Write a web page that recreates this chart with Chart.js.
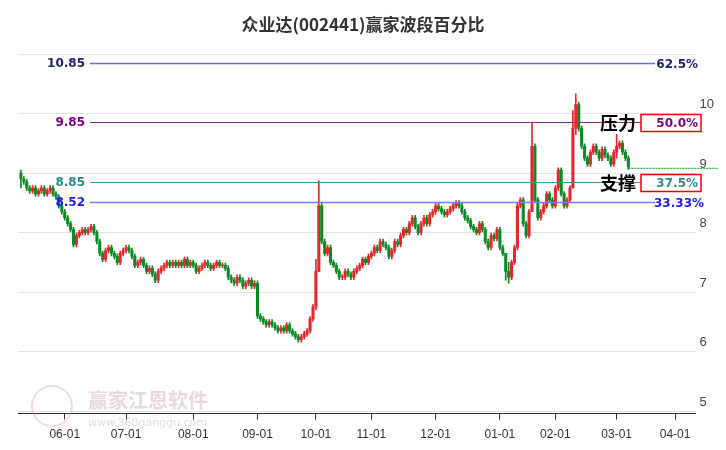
<!DOCTYPE html>
<html><head><meta charset="utf-8">
<script src="https://cdn.jsdelivr.net/npm/chart.js@4/dist/chart.umd.min.js"></script>
<style>body{margin:0;background:#fff}#wrap{width:726px;height:450px}</style>
</head><body><div id="wrap"><canvas id="c"></canvas></div>
<script>
// daily closes, mid-May to early March
const closes = [8.9,8.85,8.75,8.7,8.75,8.65,8.7,8.75,8.65,8.7,8.75,8.65,8.6,8.45,8.35,
 8.25,8.15,8.05,7.8,7.95,8.0,8.05,8.0,8.05,8.1,8.0,7.85,7.65,7.55,7.7,7.75,7.65,7.6,7.5,7.65,7.7,
 7.75,7.7,7.6,7.45,7.5,7.55,7.45,7.35,7.4,7.3,7.2,7.35,7.4,7.45,7.5,7.45,7.5,7.45,7.5,7.45,7.55,7.45,7.5,
 7.45,7.35,7.4,7.45,7.5,7.45,7.4,7.45,7.5,7.45,7.45,7.4,7.25,7.2,7.15,7.25,7.2,7.1,7.15,7.2,7.1,7.15,
 6.6,6.55,6.5,6.45,6.5,6.45,6.4,6.35,6.4,6.35,6.45,6.35,6.3,6.25,6.2,6.25,6.3,6.35,6.55,6.75,
 7.35,8.45,7.85,7.65,7.75,7.5,7.45,7.35,7.25,7.25,7.35,7.3,7.25,7.35,7.4,7.45,7.55,7.5,7.6,
 7.65,7.75,7.7,7.85,7.8,7.75,7.6,7.7,7.85,7.8,7.95,8.05,8.0,8.15,8.25,8.1,8.0,8.15,8.25,8.15,8.3,8.35,
 8.45,8.4,8.35,8.3,8.35,8.4,8.45,8.5,8.45,8.35,8.25,8.2,8.1,8.05,8.0,8.15,8.05,7.85,7.75,7.95,7.9,8.05,
 7.75,7.65,7.35,7.25,7.5,7.75,8.45,8.55,8.15,7.95,8.35,9.45,8.55,8.25,8.35,8.45,8.65,8.55,8.45,
 8.75,9.05,8.65,8.45,8.55,8.75,9.75,10.15,9.75,9.45,9.25,9.15,9.35,9.45,9.35,9.25,9.4,9.3,9.25,9.15,9.35,
 9.45,9.5,9.35,9.25,9.1];
const firstOpen = 9.0;
// notable wick extremes: [index, high, low]
const wicks = [[0,9.05,8.75],[101,7.55,6.7],[102,8.87,7.35],[166,7.55,7.2],[167,7.5,7.15],[175,9.85,8.35],[189,10.05,8.75],[190,10.33,9.65],[204,9.65,9.25]];
const monthLabels = ['06-01','07-01','08-01','09-01','10-01','11-01','12-01','01-01','02-01','03-01','04-01'];
const monthIdx = [15,36,59,81,101,120,142,164,183,204,224];
const levelValues = [10.85,9.85,8.85,8.52];
const levelLeft = ['10.85','9.85','8.85','8.52'];
const levelRight = ['62.5%','50.0%','37.5%','33.33%'];
const levelColors = ['#22226e','#800080','#2a8a8a','#1a1aff'];
const lineColors = ['#7070c0','#8a2a8a','#3a9a9a','#7a7aff'];
const lastPrice = 9.08;

const opens = closes.map((c,i)=> i===0 ? firstOpen : closes[i-1]);
const bodies = closes.map((c,i)=>({x:i,y:[opens[i],c===opens[i]?c+0.01:c]}));
const lines = closes.map((c,i)=>{
  const w = wicks.find(k=>k[0]===i);
  const hi = w ? w[1] : Math.max(opens[i],c)+0.04;
  const lo = w ? w[2] : Math.min(opens[i],c)-0.04;
  return {x:i,y:[lo,hi]};
});
const col = closes.map((c,i)=> c>=opens[i] ? '#e8262b' : '#0b8a26');

const overlay = {
  id:'overlay',
  beforeDatasetsDraw(chart){
    const {ctx} = chart;
    ctx.save();
    ctx.font='bold 17px "Noto Sans CJK SC"';ctx.fillStyle='#333';ctx.textAlign='center';
    ctx.fillText('众业达(002441)赢家波段百分比',363,31);
    ctx.strokeStyle='rgba(200,140,140,0.3)';ctx.lineWidth=2;
    ctx.beginPath();ctx.arc(52,406,20,0,Math.PI*2);ctx.stroke();
    ctx.font='bold 20px "Noto Sans CJK SC"';ctx.fillStyle='rgba(190,150,150,0.35)';
    ctx.textAlign='left';ctx.fillText('赢家江恩软件',88,408);
    ctx.font='11px "DejaVu Sans"';ctx.fillText('www.360ganggu.com',88,426);
    ctx.restore();
  },
  afterDatasetsDraw(chart){
    const {ctx,scales:{x,y}} = chart;
    ctx.save();
    levelValues.forEach((v,i)=>{
      const py = Math.round(y.getPixelForValue(v))+0.5;
      ctx.strokeStyle=lineColors[i];ctx.lineWidth=i===0||i===3?1.5:1;
      ctx.beginPath();ctx.moveTo(90,py);ctx.lineTo(655,py);ctx.stroke();
      ctx.font='bold 12px "DejaVu Sans"';ctx.fillStyle=levelColors[i];ctx.textBaseline='middle';
      ctx.textAlign='right';ctx.fillText(levelLeft[i],85,py);
      if(i===1||i===2){
        ctx.fillStyle='#fff';ctx.fillRect(641,py-8,60,17);
        ctx.strokeStyle='#e00';ctx.lineWidth=1.5;ctx.strokeRect(641,py-8,60,17);
        ctx.font='bold 18px "Noto Sans CJK SC"';ctx.fillStyle='#000';
        ctx.fillText(i===1?'压力':'支撑',636,py+1);
        ctx.font='bold 12px "DejaVu Sans"';
      }
      ctx.fillStyle=levelColors[i];
      ctx.fillText(levelRight[i],i===3?704:698,py+1);
    });
    const lp = y.getPixelForValue(lastPrice);
    ctx.strokeStyle='#0b8a26';ctx.lineWidth=1;ctx.setLineDash([2,1]);
    ctx.beginPath();ctx.moveTo(x.getPixelForValue(closes.length-1),lp);ctx.lineTo(718,lp);ctx.stroke();
    ctx.restore();
  }
};

new Chart(document.getElementById('c'),{
  type:'bar',
  data:{datasets:[
    {data:lines,backgroundColor:col,barThickness:1,grouped:false},
    {data:bodies,backgroundColor:col,barThickness:2.4,grouped:false}
  ]},
  options:{
    responsive:true,maintainAspectRatio:false,animation:false,
    layout:{padding:{top:54,left:18,right:8,bottom:0}},
    plugins:{legend:{display:false},tooltip:{enabled:false}},
    scales:{
      x:{type:'linear',min:-1,max:231,offset:false,
        grid:{display:true,offset:false,drawOnChartArea:false,drawTicks:true,tickLength:6,color:'#333'},
        border:{color:'#333'},
        afterBuildTicks(s){s.ticks=monthIdx.map(v=>({value:v}));},
        ticks:{autoSkip:false,maxRotation:0,color:'#333',font:{size:12},padding:8,
          callback:(v)=>monthLabels[monthIdx.indexOf(v)]}},
      y:{position:'right',min:4.96,max:11,
        afterBuildTicks(s){s.ticks=[5,6,7,8,9,10,11].map(v=>({value:v}));},
        grid:{color:'#e4e4e4',drawTicks:false},border:{display:false},
        ticks:{color:'#444',font:{size:13},padding:4,labelOffset:-9,
          callback:(v)=>v===11?'':String(v)}},
    }
  },
  plugins:[overlay]
});
</script></body></html>
